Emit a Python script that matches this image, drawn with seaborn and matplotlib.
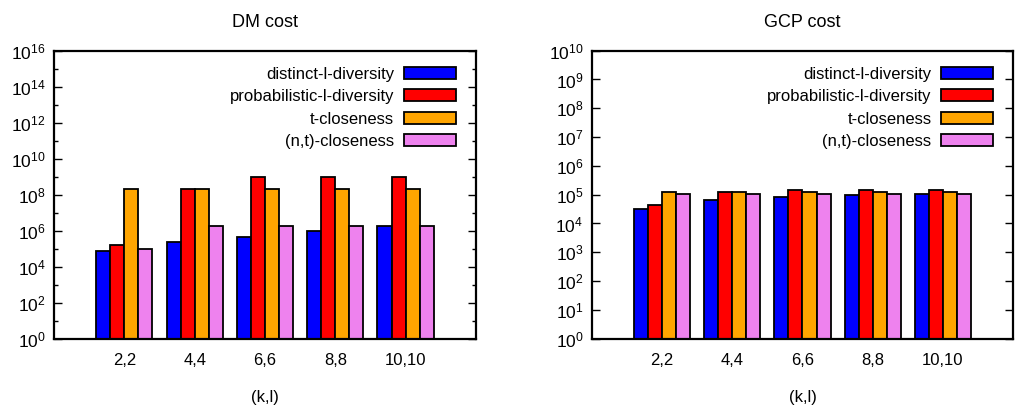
import numpy as np
import pandas as pd
import matplotlib
matplotlib.use("Agg")
import matplotlib.pyplot as plt
import seaborn as sns
from matplotlib.ticker import FixedLocator, NullFormatter

categories = ["2,2", "4,4", "6,6", "8,8", "10,10"]
series = ["distinct-l-diversity", "probabilistic-l-diversity", "t-closeness", "(n,t)-closeness"]
colors = ["#0000ff", "#ff0000", "#ffa500", "#ee82ee"]

dm_distinct = [7.7e4, 2.3e5, 4.5e5, 9.0e5, 1.8e6]
dm_prob = [1.5e5, 2.2e8, 9.0e8, 9.0e8, 9.0e8]
dm_tclose = [2.2e8, 2.2e8, 2.2e8, 2.2e8, 2.2e8]
dm_ntclose = [1.0e5, 1.9e6, 1.9e6, 1.9e6, 1.9e6]

gcp_distinct = [3.2e4, 6.6e4, 8.5e4, 9.8e4, 1.05e5]
gcp_prob = [4.4e4, 1.2e5, 1.45e5, 1.45e5, 1.45e5]
gcp_tclose = [1.27e5, 1.27e5, 1.27e5, 1.27e5, 1.27e5]
gcp_ntclose = [1.05e5, 1.05e5, 1.05e5, 1.05e5, 1.05e5]

titles = ["DM cost", "GCP cost"]
xlabel = "(k,l)"


def make_df(vals):
    rows = []
    for s, v in zip(series, vals):
        for c, y in zip(categories, v):
            rows.append({"kl": c, "method": s, "cost": y})
    return pd.DataFrame(rows)


sns.set_theme(style="white")
plt.rcParams["font.family"] = ["Liberation Sans", "DejaVu Sans"]
plt.rcParams["mathtext.fontset"] = "custom"
plt.rcParams["mathtext.rm"] = "Liberation Sans"
plt.rcParams["mathtext.it"] = "Liberation Sans"
plt.rcParams["mathtext.bf"] = "Liberation Sans"
for k in ["text.color", "axes.labelcolor", "xtick.color", "ytick.color"]:
    plt.rcParams[k] = "black"

fig = plt.figure(figsize=(10.28, 4.12), dpi=100)
ax1 = fig.add_axes([0.0525, 0.178, 0.4105, 0.699])
ax2 = fig.add_axes([0.5756, 0.178, 0.4100, 0.699])

datasets = [
    [dm_distinct, dm_prob, dm_tclose, dm_ntclose],
    [gcp_distinct, gcp_prob, gcp_tclose, gcp_ntclose],
]
ymax_exp = [16, 10]
step = [2, 1]

for ax, vals, title, ye, st in zip([ax1, ax2], datasets, titles, ymax_exp, step):
    df = make_df(vals)
    sns.barplot(data=df, x="kl", y="cost", hue="method", hue_order=series,
                order=categories, palette=colors, width=0.8, ax=ax,
                edgecolor="black", linewidth=1.3, saturation=1, errorbar=None)
    ax.set_yscale("log")
    ax.set_ylim(1, 10 ** ye)
    ax.set_xlim(-1, 5)
    majors = [10.0 ** e for e in range(0, ye + 1, st)]
    ax.yaxis.set_major_locator(FixedLocator(majors))
    ax.set_yticklabels([r"$\mathdefault{10^{%d}}$" % e for e in range(0, ye + 1, st)])
    if st == 2:
        ax.yaxis.set_minor_locator(FixedLocator([10.0 ** e for e in range(1, ye, 2)]))
    else:
        ax.yaxis.set_minor_locator(FixedLocator([]))
    ax.yaxis.set_minor_formatter(NullFormatter())
    ax.tick_params(axis="y", which="major", direction="in", length=6, width=1,
                   left=True, right=True, labelsize=12.5, pad=6)
    ax.tick_params(axis="y", which="minor", direction="in", length=3, width=1,
                   left=True, right=True)
    ax.tick_params(axis="x", which="major", direction="in", length=4, width=1,
                   bottom=True, top=False, labelsize=12, pad=10)
    for sp in ax.spines.values():
        sp.set_linewidth(1.6)
        sp.set_color("black")
    ax.set_title(title, fontsize=13, pad=17)
    ax.set_xlabel(xlabel, fontsize=12, labelpad=16)
    ax.set_ylabel("")
    handles, labels = ax.get_legend_handles_labels()
    ax.legend(handles, labels, loc="upper right", frameon=False, markerfirst=False,
              fontsize=12, handlelength=3.1, handleheight=0.7, handletextpad=0.6,
              labelspacing=0.45, borderaxespad=0.3, bbox_to_anchor=(0.98, 0.985))

fig.savefig("out.png", dpi=100)
